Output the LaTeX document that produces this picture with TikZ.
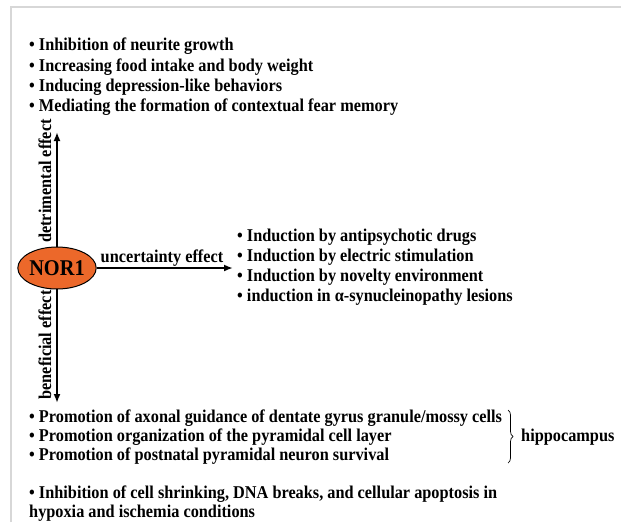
\documentclass[tikz,border=0pt]{standalone}
\usepackage{fontspec}
\setmainfont{Liberation Serif}
\newfontfamily\figfont[FakeStretch=0.905]{Liberation Serif}
\usetikzlibrary{arrows.meta,shapes.geometric,decorations.pathreplacing}

\definecolor{nororange}{RGB}{236,104,42}
\definecolor{framegray}{RGB}{215,215,215}

\begin{document}
\begin{tikzpicture}[x=1pt,y=-1pt,
  txt/.style={anchor=west,inner sep=0pt,font=\figfont\fontsize{18}{20}\selectfont\bfseries},
  lbl/.style={inner sep=0pt,font=\figfont\fontsize{18}{20}\selectfont\bfseries},
  effarrow/.style={line width=2pt,-{Latex[length=9pt,width=7pt]}}]
\useasboundingbox (0,0) rectangle (621,522);
\draw[framegray,line width=1.5pt] (11,522) -- (11,7) -- (621,7);

% detrimental
\node[txt] (det1) at (29,46) {• Inhibition of neurite growth};
\node[txt] (det2) at (29,67) {• Increasing food intake and body weight};
\node[txt] (det3) at (29,87) {• Inducing depression-like behaviors};
\node[txt] (det4) at (29,107) {• Mediating the formation of contextual fear memory};

% NOR1 and arrows
\coordinate (dettip) at (57,132);
\coordinate (bentip) at (57,403);
\coordinate (unctip) at (233,268);
\draw[effarrow] (57,268) -- (dettip);
\draw[effarrow] (57,268) -- (bentip);
\node[ellipse,draw,line width=1pt,fill=nororange,minimum width=74pt,minimum height=42pt,inner sep=0pt,
  font=\figfont\fontsize{22.5}{24}\selectfont\bfseries] (nor) at (57,268) {NOR1};
\draw[effarrow] (nor.east) -- (unctip);
\node[lbl,rotate=90] (detlbl) at (45,181) {detrimental effect};
\node[lbl,rotate=90] (benlbl) at (45,345) {beneficial effect};
\node[lbl] (unclbl) at (162,258) {uncertainty effect};

% uncertainty
\node[txt] (unc1) at (237,237) {• Induction by antipsychotic drugs};
\node[txt] (unc2) at (237,257) {• Induction by electric stimulation};
\node[txt] (unc3) at (237,277) {• Induction by novelty environment};
\node[txt] (unc4) at (237,297) {• induction in α-synucleinopathy lesions};

% beneficial
\node[txt] (ben1) at (29,418) {• Promotion of axonal guidance of dentate gyrus granule/mossy cells};
\node[txt] (ben2) at (29,437) {• Promotion organization of the pyramidal cell layer};
\node[txt] (ben3) at (29,456) {• Promotion of postnatal pyramidal neuron survival};
\coordinate (bratop) at (508,410);
\coordinate (brabot) at (508,463);
\draw[line width=0.7pt,decorate,decoration={brace,amplitude=5pt}] (bratop) -- (brabot);
\node[txt] (hippo) at (521,437) {hippocampus};
\node[txt] (ben4) at (29,494) {• Inhibition of cell shrinking, DNA breaks, and cellular apoptosis in};
\node[txt] (ben5) at (29,513) {hypoxia and ischemia conditions};
\end{tikzpicture}
\end{document}
